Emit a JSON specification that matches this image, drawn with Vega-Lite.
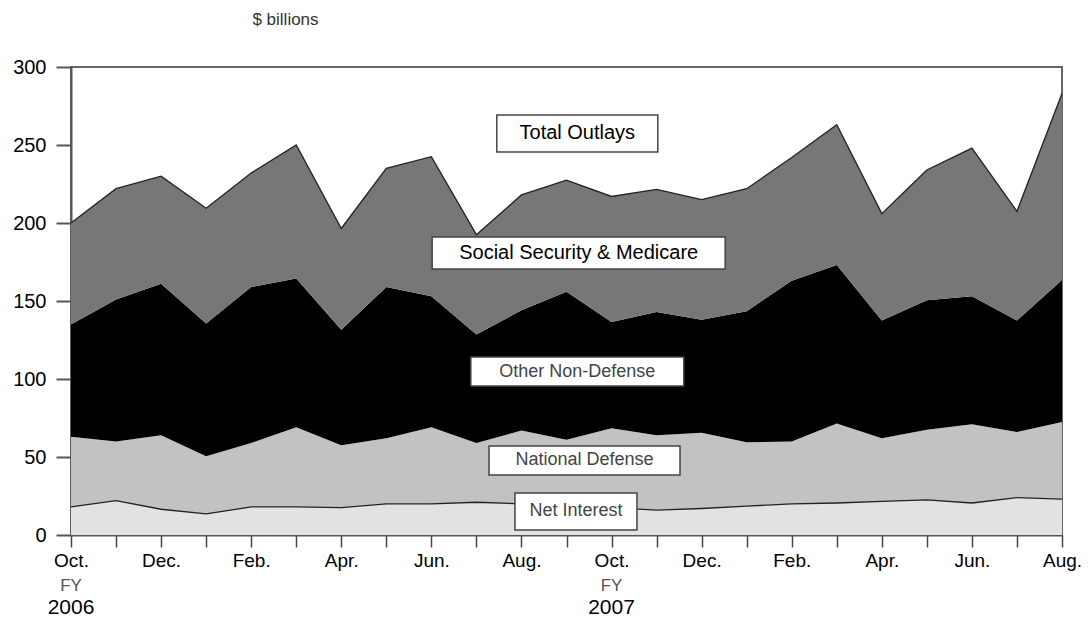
{
  "$schema": "https://vega.github.io/schema/vega-lite/v6.json",
  "width": 991,
  "height": 468,
  "autosize": "none",
  "padding": {"left": 71, "top": 67, "right": 26, "bottom": 86},
  "config": {"font": "Liberation Sans", "view": {"stroke": "#666", "strokeWidth": 2}},
  "datasets": {
    "outlays": [
      {"m":0,"k":1,"s":"Net Interest","v":18},{"m":0,"k":2,"s":"National Defense","v":45},{"m":0,"k":3,"s":"Other Non-Defense","v":72},{"m":0,"k":4,"s":"Social Security & Medicare","v":65},
      {"m":1,"k":1,"s":"Net Interest","v":22},{"m":1,"k":2,"s":"National Defense","v":38},{"m":1,"k":3,"s":"Other Non-Defense","v":91},{"m":1,"k":4,"s":"Social Security & Medicare","v":71},
      {"m":2,"k":1,"s":"Net Interest","v":16.5},{"m":2,"k":2,"s":"National Defense","v":47.5},{"m":2,"k":3,"s":"Other Non-Defense","v":97},{"m":2,"k":4,"s":"Social Security & Medicare","v":69},
      {"m":3,"k":1,"s":"Net Interest","v":13.5},{"m":3,"k":2,"s":"National Defense","v":37},{"m":3,"k":3,"s":"Other Non-Defense","v":85},{"m":3,"k":4,"s":"Social Security & Medicare","v":74},
      {"m":4,"k":1,"s":"Net Interest","v":18},{"m":4,"k":2,"s":"National Defense","v":41},{"m":4,"k":3,"s":"Other Non-Defense","v":100},{"m":4,"k":4,"s":"Social Security & Medicare","v":73},
      {"m":5,"k":1,"s":"Net Interest","v":18},{"m":5,"k":2,"s":"National Defense","v":51},{"m":5,"k":3,"s":"Other Non-Defense","v":95.5},{"m":5,"k":4,"s":"Social Security & Medicare","v":85.5},
      {"m":6,"k":1,"s":"Net Interest","v":17.5},{"m":6,"k":2,"s":"National Defense","v":40},{"m":6,"k":3,"s":"Other Non-Defense","v":74},{"m":6,"k":4,"s":"Social Security & Medicare","v":65},
      {"m":7,"k":1,"s":"Net Interest","v":20},{"m":7,"k":2,"s":"National Defense","v":42},{"m":7,"k":3,"s":"Other Non-Defense","v":97},{"m":7,"k":4,"s":"Social Security & Medicare","v":76},
      {"m":8,"k":1,"s":"Net Interest","v":20},{"m":8,"k":2,"s":"National Defense","v":49},{"m":8,"k":3,"s":"Other Non-Defense","v":84},{"m":8,"k":4,"s":"Social Security & Medicare","v":89.5},
      {"m":9,"k":1,"s":"Net Interest","v":21},{"m":9,"k":2,"s":"National Defense","v":38},{"m":9,"k":3,"s":"Other Non-Defense","v":69.5},{"m":9,"k":4,"s":"Social Security & Medicare","v":64},
      {"m":10,"k":1,"s":"Net Interest","v":20},{"m":10,"k":2,"s":"National Defense","v":47},{"m":10,"k":3,"s":"Other Non-Defense","v":77},{"m":10,"k":4,"s":"Social Security & Medicare","v":74},
      {"m":11,"k":1,"s":"Net Interest","v":20},{"m":11,"k":2,"s":"National Defense","v":41},{"m":11,"k":3,"s":"Other Non-Defense","v":95},{"m":11,"k":4,"s":"Social Security & Medicare","v":71.5},
      {"m":12,"k":1,"s":"Net Interest","v":17.5},{"m":12,"k":2,"s":"National Defense","v":51},{"m":12,"k":3,"s":"Other Non-Defense","v":68},{"m":12,"k":4,"s":"Social Security & Medicare","v":80.5},
      {"m":13,"k":1,"s":"Net Interest","v":16},{"m":13,"k":2,"s":"National Defense","v":48},{"m":13,"k":3,"s":"Other Non-Defense","v":79},{"m":13,"k":4,"s":"Social Security & Medicare","v":78.5},
      {"m":14,"k":1,"s":"Net Interest","v":17},{"m":14,"k":2,"s":"National Defense","v":48.5},{"m":14,"k":3,"s":"Other Non-Defense","v":72.5},{"m":14,"k":4,"s":"Social Security & Medicare","v":77},
      {"m":15,"k":1,"s":"Net Interest","v":18.5},{"m":15,"k":2,"s":"National Defense","v":41},{"m":15,"k":3,"s":"Other Non-Defense","v":84},{"m":15,"k":4,"s":"Social Security & Medicare","v":78.5},
      {"m":16,"k":1,"s":"Net Interest","v":20},{"m":16,"k":2,"s":"National Defense","v":40},{"m":16,"k":3,"s":"Other Non-Defense","v":103},{"m":16,"k":4,"s":"Social Security & Medicare","v":79},
      {"m":17,"k":1,"s":"Net Interest","v":20.5},{"m":17,"k":2,"s":"National Defense","v":51},{"m":17,"k":3,"s":"Other Non-Defense","v":101.5},{"m":17,"k":4,"s":"Social Security & Medicare","v":90},
      {"m":18,"k":1,"s":"Net Interest","v":21.5},{"m":18,"k":2,"s":"National Defense","v":40.5},{"m":18,"k":3,"s":"Other Non-Defense","v":75.5},{"m":18,"k":4,"s":"Social Security & Medicare","v":68.5},
      {"m":19,"k":1,"s":"Net Interest","v":22.5},{"m":19,"k":2,"s":"National Defense","v":45},{"m":19,"k":3,"s":"Other Non-Defense","v":83},{"m":19,"k":4,"s":"Social Security & Medicare","v":83.5},
      {"m":20,"k":1,"s":"Net Interest","v":20.5},{"m":20,"k":2,"s":"National Defense","v":50.5},{"m":20,"k":3,"s":"Other Non-Defense","v":82},{"m":20,"k":4,"s":"Social Security & Medicare","v":95},
      {"m":21,"k":1,"s":"Net Interest","v":24},{"m":21,"k":2,"s":"National Defense","v":42},{"m":21,"k":3,"s":"Other Non-Defense","v":71.5},{"m":21,"k":4,"s":"Social Security & Medicare","v":70},
      {"m":22,"k":1,"s":"Net Interest","v":23},{"m":22,"k":2,"s":"National Defense","v":49.5},{"m":22,"k":3,"s":"Other Non-Defense","v":91},{"m":22,"k":4,"s":"Social Security & Medicare","v":119.5}
    ],
    "labels": [
      {"label":"Total Outlays","m":11.24,"v":257.4},
      {"label":"Social Security & Medicare","m":11.27,"v":180.8},
      {"label":"Other Non-Defense","m":11.24,"v":104.8},
      {"label":"National Defense","m":11.40,"v":47.8},
      {"label":"Net Interest","m":11.21,"v":15.1}
    ],
    "fy": [{"m":0,"fy":"2006"},{"m":12,"fy":"2007"}]
  },
  "layer": [
    {
      "data": {"name": "outlays"},
      "transform": [{"stack": "v", "groupby": ["m"], "sort": [{"field": "k"}], "as": ["y0", "y1"]}],
      "mark": {"type": "area", "interpolate": "linear"},
      "encoding": {
        "x": {"field": "m", "type": "quantitative", "scale": {"domain": [0, 22], "nice": false},
          "axis": {"values": [0,1,2,3,4,5,6,7,8,9,10,11,12,13,14,15,16,17,18,19,20,21,22],
            "labelExpr": "datum.value % 2 == 0 ? ['Oct.','Dec.','Feb.','Apr.','Jun.','Aug.'][(datum.value % 12) / 2] : ''",
            "labelFlush": false, "labelOverlap": false, "grid": false, "title": null,
            "tickSize": 12, "tickColor": "#444", "tickWidth": 1.5, "domainColor": "#555", "domainWidth": 2,
            "labelFontSize": 19, "labelColor": "#000", "labelPadding": 4}},
        "y": {"field": "y1", "type": "quantitative", "scale": {"domain": [0, 300], "nice": false},
          "axis": {"values": [0,50,100,150,200,250,300], "grid": false, "title": "$ billions",
            "titleAngle": 0, "titleX": 214, "titleY": -48, "titleAlign": "center", "titleBaseline": "middle",
            "titleFontSize": 17, "titleFontWeight": "normal", "titleColor": "#333",
            "tickSize": 15, "tickWidth": 2, "tickColor": "#555", "domainColor": "#555", "domainWidth": 2,
            "labelFontSize": 20, "labelColor": "#000", "labelPadding": 10}},
        "y2": {"field": "y0"},
        "color": {"field": "s", "type": "nominal",
          "scale": {"domain": ["Net Interest", "National Defense", "Other Non-Defense", "Social Security & Medicare"],
            "range": ["#e2e2e2", "#c2c2c2", "#000000", "#777777"]}, "legend": null}
      }
    },
    {
      "data": {"name": "outlays"},
      "transform": [{"stack": "v", "groupby": ["m"], "sort": [{"field": "k"}], "as": ["y0", "y1"]},
        {"filter": "datum.k == 1 || datum.k == 4"}],
      "mark": {"type": "line", "color": "#222", "strokeWidth": 1.3},
      "encoding": {
        "x": {"field": "m", "type": "quantitative"},
        "y": {"field": "y1", "type": "quantitative"},
        "detail": {"field": "s"}
      }
    },
    {
      "data": {"name": "labels"}, "transform": [{"filter": "datum.label == 'Total Outlays'"}],
      "mark": {"type": "rect", "width": 161, "height": 37, "fill": "#fff", "stroke": "#444", "strokeWidth": 1.5},
      "encoding": {"x": {"field": "m", "type": "quantitative"}, "y": {"field": "v", "type": "quantitative"}}
    },
    {
      "data": {"name": "labels"}, "transform": [{"filter": "datum.label == 'Social Security & Medicare'"}],
      "mark": {"type": "rect", "width": 293, "height": 32, "fill": "#fff", "stroke": "#444", "strokeWidth": 1.5},
      "encoding": {"x": {"field": "m", "type": "quantitative"}, "y": {"field": "v", "type": "quantitative"}}
    },
    {
      "data": {"name": "labels"}, "transform": [{"filter": "datum.label == 'Other Non-Defense'"}],
      "mark": {"type": "rect", "width": 213, "height": 29, "fill": "#fff", "stroke": "#444", "strokeWidth": 1.5},
      "encoding": {"x": {"field": "m", "type": "quantitative"}, "y": {"field": "v", "type": "quantitative"}}
    },
    {
      "data": {"name": "labels"}, "transform": [{"filter": "datum.label == 'National Defense'"}],
      "mark": {"type": "rect", "width": 191, "height": 29, "fill": "#fff", "stroke": "#444", "strokeWidth": 1.5},
      "encoding": {"x": {"field": "m", "type": "quantitative"}, "y": {"field": "v", "type": "quantitative"}}
    },
    {
      "data": {"name": "labels"}, "transform": [{"filter": "datum.label == 'Net Interest'"}],
      "mark": {"type": "rect", "width": 122, "height": 37, "fill": "#fff", "stroke": "#444", "strokeWidth": 1.5},
      "encoding": {"x": {"field": "m", "type": "quantitative"}, "y": {"field": "v", "type": "quantitative"}}
    },
    {
      "data": {"name": "labels"}, "transform": [{"filter": "datum.label == 'Total Outlays' || datum.label == 'Social Security & Medicare'"}],
      "mark": {"type": "text", "fontSize": 20, "color": "#000", "baseline": "middle", "align": "center"},
      "encoding": {"x": {"field": "m", "type": "quantitative"}, "y": {"field": "v", "type": "quantitative"}, "text": {"field": "label"}}
    },
    {
      "data": {"name": "labels"}, "transform": [{"filter": "datum.label != 'Total Outlays' && datum.label != 'Social Security & Medicare'"}],
      "mark": {"type": "text", "fontSize": 18, "color": "#444", "baseline": "middle", "align": "center"},
      "encoding": {"x": {"field": "m", "type": "quantitative"}, "y": {"field": "v", "type": "quantitative"}, "text": {"field": "label"}}
    },
    {
      "data": {"name": "fy"},
      "mark": {"type": "text", "fontSize": 17, "color": "#555", "baseline": "middle", "align": "center", "text": "FY"},
      "encoding": {"x": {"field": "m", "type": "quantitative"}, "y": {"datum": -32.7, "type": "quantitative"}}
    },
    {
      "data": {"name": "fy"},
      "mark": {"type": "text", "fontSize": 21, "color": "#000", "baseline": "middle", "align": "center"},
      "encoding": {"x": {"field": "m", "type": "quantitative"}, "y": {"datum": -46.8, "type": "quantitative"}, "text": {"field": "fy"}}
    }
  ]
}
